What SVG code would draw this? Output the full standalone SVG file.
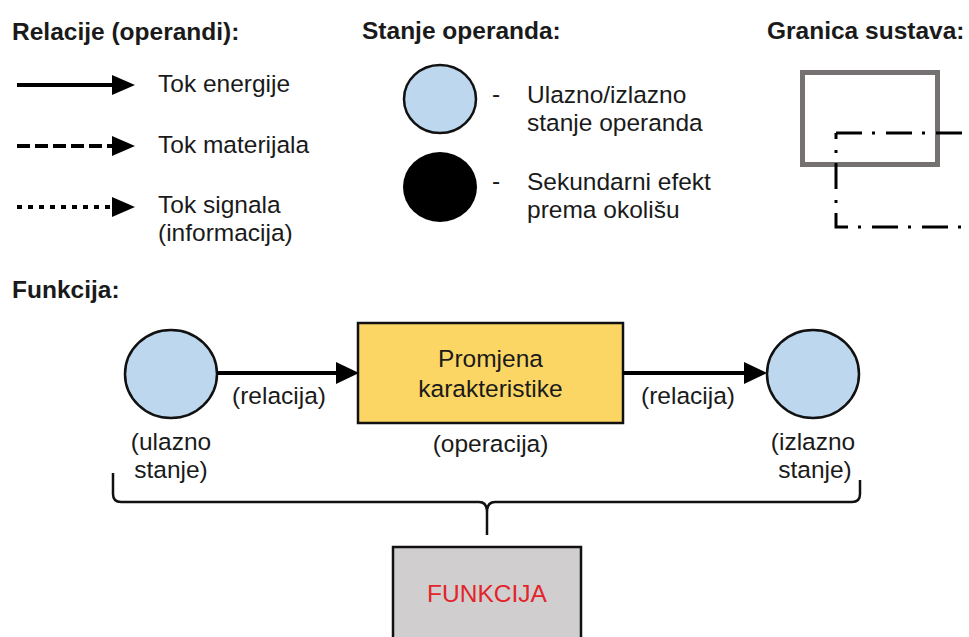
<svg xmlns="http://www.w3.org/2000/svg" width="969" height="637" viewBox="0 0 969 637">
  <style>
    text { font-family: "Liberation Sans", Arial, sans-serif; font-size: 24.5px; fill: #1a1a1a; }
    .title { font-weight: bold; }
    .mid { text-anchor: middle; }
    .conn { stroke: #000; stroke-width: 4; fill: none; }
    .state { fill: #BDD7EE; stroke: #111; stroke-width: 2.5; }
    .bnd { stroke: #000; stroke-width: 3; fill: none; stroke-dasharray: 26 10 3 11; }
  </style>
  <defs>
    <marker id="ah" viewBox="0 0 23 22" refX="0" refY="11" markerWidth="23" markerHeight="22" markerUnits="userSpaceOnUse" orient="auto">
      <path d="M0,0 L23,11 L0,22 z" fill="#000"/>
    </marker>
    <marker id="ahs" viewBox="0 0 23 20" refX="0" refY="10" markerWidth="23" markerHeight="20" markerUnits="userSpaceOnUse" orient="auto">
      <path d="M0,0 L23,10 L0,20 z" fill="#000"/>
    </marker>
  </defs>
  <rect width="969" height="637" fill="#fff"/>

  <!-- Legend: relations -->
  <g id="legend-relations">
    <text class="title" x="12" y="40">Relacije (operandi):</text>
    <line class="conn" x1="17" y1="85" x2="112" y2="85" marker-end="url(#ahs)"/>
    <line class="conn" x1="17" y1="146" x2="112" y2="146" stroke-dasharray="13 5" marker-end="url(#ahs)"/>
    <line class="conn" x1="17" y1="207" x2="112" y2="207" stroke-dasharray="5 6" marker-end="url(#ahs)"/>
    <text x="158" y="92">Tok energije</text>
    <text x="158" y="153">Tok materijala</text>
    <text x="158" y="213">Tok signala</text>
    <text x="158" y="241">(informacija)</text>
  </g>

  <!-- Legend: operand states -->
  <g id="legend-states">
    <text class="title" x="362" y="39">Stanje operanda:</text>
    <ellipse class="state" cx="440" cy="99" rx="36" ry="34"/>
    <ellipse cx="440" cy="187" rx="37" ry="35" fill="#000"/>
    <text x="492" y="102">-</text>
    <text x="527" y="103">Ulazno/izlazno</text>
    <text x="527" y="131">stanje operanda</text>
    <text x="492" y="189">-</text>
    <text x="527" y="190">Sekundarni efekt</text>
    <text x="527" y="218">prema okolišu</text>
  </g>

  <!-- Legend: system boundary -->
  <g id="legend-boundary">
    <text class="title" x="767" y="39">Granica sustava:</text>
    <rect x="802.5" y="72.5" width="135" height="92" fill="none" stroke="#767171" stroke-width="5"/>
    <path class="bnd" d="M836,133 H969"/>
    <path class="bnd" d="M848,227 H836 V133"/>
    <path class="bnd" d="M848,227 H969" stroke-dashoffset="26"/>
  </g>

  <text class="title" x="12" y="298">Funkcija:</text>

  <!-- Nodes -->
  <g id="input-state">
    <ellipse class="state" cx="171" cy="374" rx="46" ry="44"/>
    <text class="mid" x="171" y="450">(ulazno</text>
    <text class="mid" x="171" y="478">stanje)</text>
  </g>
  <g id="operation">
    <rect x="358" y="323" width="265" height="100" fill="#FCD664" stroke="#111" stroke-width="2.5"/>
    <text class="mid" x="490.5" y="367">Promjena</text>
    <text class="mid" x="490.5" y="397">karakteristike</text>
    <text class="mid" x="490.5" y="452">(operacija)</text>
  </g>
  <g id="output-state">
    <ellipse class="state" cx="813" cy="374" rx="46" ry="44"/>
    <text class="mid" x="813" y="450">(izlazno</text>
    <text class="mid" x="815" y="478">stanje)</text>
  </g>
  <g id="function">
    <rect x="393" y="547" width="188" height="100" fill="#D0CECE" stroke="#111" stroke-width="2.5"/>
    <text class="mid" x="487" y="602" style="fill:#E3242B">FUNKCIJA</text>
  </g>

  <!-- Connectors -->
  <g id="connectors">
    <line class="conn" x1="217" y1="373" x2="336" y2="373" marker-end="url(#ah)"/>
    <text class="mid" x="279" y="404">(relacija)</text>
    <line class="conn" x1="623" y1="373" x2="744" y2="373" marker-end="url(#ah)"/>
    <text class="mid" x="688" y="404">(relacija)</text>
    <path d="M113,473 V494 Q113,502 121,502 H479 Q487,502 487,512 V535 M860,480 V494 Q860,502 852,502 H495 Q487,502 487,512" fill="none" stroke="#111" stroke-width="2.5"/>
  </g>
</svg>
